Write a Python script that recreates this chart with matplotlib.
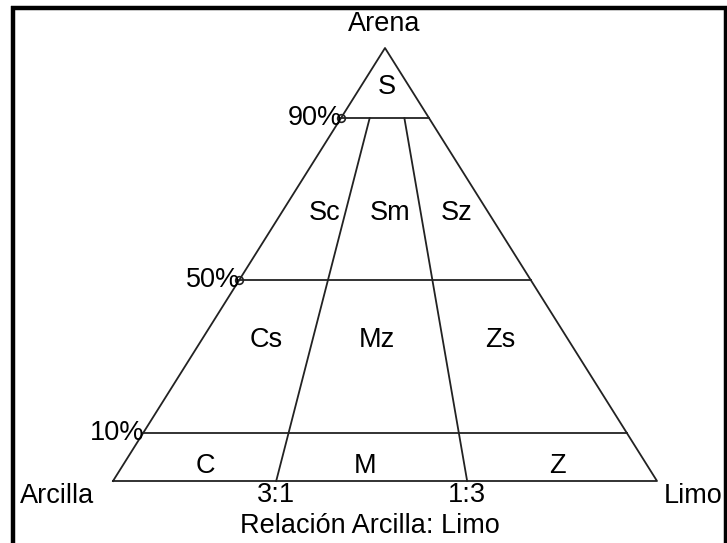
import matplotlib.pyplot as plt
from matplotlib.lines import Line2D

# Folk-style sand / clay / silt ternary diagram
corners = ["Arcilla", "Limo", "Arena"]
sand_levels = ["10%", "50%", "90%"]
level_heights = [0.111, 0.464, 0.838]   # drawn heights of the sand lines (fraction of triangle height)
level_marker = [False, True, True]
ratio_labels = ["3:1", "1:3"]
ratio_bottom = [0.30, 0.651]            # where the ratio lines meet the base
ratio_top = [0.326, 0.72]               # where they meet the 90% line (fraction along it)
axis_title = "Relación Arcilla: Limo"

class_names = ["S", "Sc", "Sm", "Sz", "Cs", "Mz", "Zs", "C", "M", "Z"]
# label positions in pixels of the original picture
class_pos = [(387, 87), (325, 213), (390, 213), (457, 213),
             (266, 340), (377, 340), (500, 340),
             (205, 466), (365, 466), (557, 466)]

W, H = 727, 543
x0, x1, ybase, ytop = 113, 657, 481, 48

fig = plt.figure(figsize=(W / 100, H / 100), dpi=100)
ax = fig.add_axes([x0 / W, (H - ybase) / H, (x1 - x0) / W, (ybase - ytop) / H])
ax.set_xlim(0, 1)
ax.set_ylim(0, 1)
ax.axis("off")


def px(x, y):
    return (x - x0) / (x1 - x0), (ybase - y) / (ybase - ytop)


plt.rcParams["font.family"] = ["Liberation Sans", "DejaVu Sans"]
fs = 19.5
lw = 1.3
col = "#222222"

# outline
ax.plot([0, 1, 0.5, 0], [0, 0, 1, 0], color=col, lw=lw, clip_on=False)

# sand levels
for lab, h, mk in zip(sand_levels, level_heights, level_marker):
    ax.plot([h / 2, 1 - h / 2], [h, h], color=col, lw=lw, clip_on=False)
    if mk:
        ax.plot(h / 2, h, "o", ms=5.5, mfc="none", mec=col, mew=1.2, clip_on=False)
    ax.text(h / 2 + 0.002, h, lab, fontsize=fs, ha="right", va="center")

# clay:silt ratio lines
h90 = level_heights[-1]
for lab, b, t in zip(ratio_labels, ratio_bottom, ratio_top):
    xt = h90 / 2 + t * (1 - h90)
    ax.plot([b, xt], [0, h90], color=col, lw=lw, clip_on=False)
    ax.text(b, px(0, 495)[1], lab, fontsize=fs, ha="center", va="center")

for name, (x, y) in zip(class_names, class_pos):
    ax.text(*px(x, y), name, fontsize=fs, ha="center", va="center")

ax.text(*px(57, 496), corners[0], fontsize=fs, ha="center", va="center")
ax.text(*px(693, 496), corners[1], fontsize=fs, ha="center", va="center")
ax.text(*px(384, 24), corners[2], fontsize=fs, ha="center", va="center")
ax.text(*px(370, 526), axis_title, fontsize=fs, ha="center", va="center")

# picture frame
frame = dict(color="black", transform=fig.transFigure, solid_capstyle="butt")
fig.add_artist(Line2D([13 / W, 13 / W], [0, 1 - 6 / H], lw=3.2, **frame))
fig.add_artist(Line2D([11 / W, 1], [1 - 8 / H, 1 - 8 / H], lw=3.2, **frame))
fig.add_artist(Line2D([725 / W, 725 / W], [0, 1 - 8 / H], lw=2.5, **frame))

fig.savefig("out.png", dpi=100)
